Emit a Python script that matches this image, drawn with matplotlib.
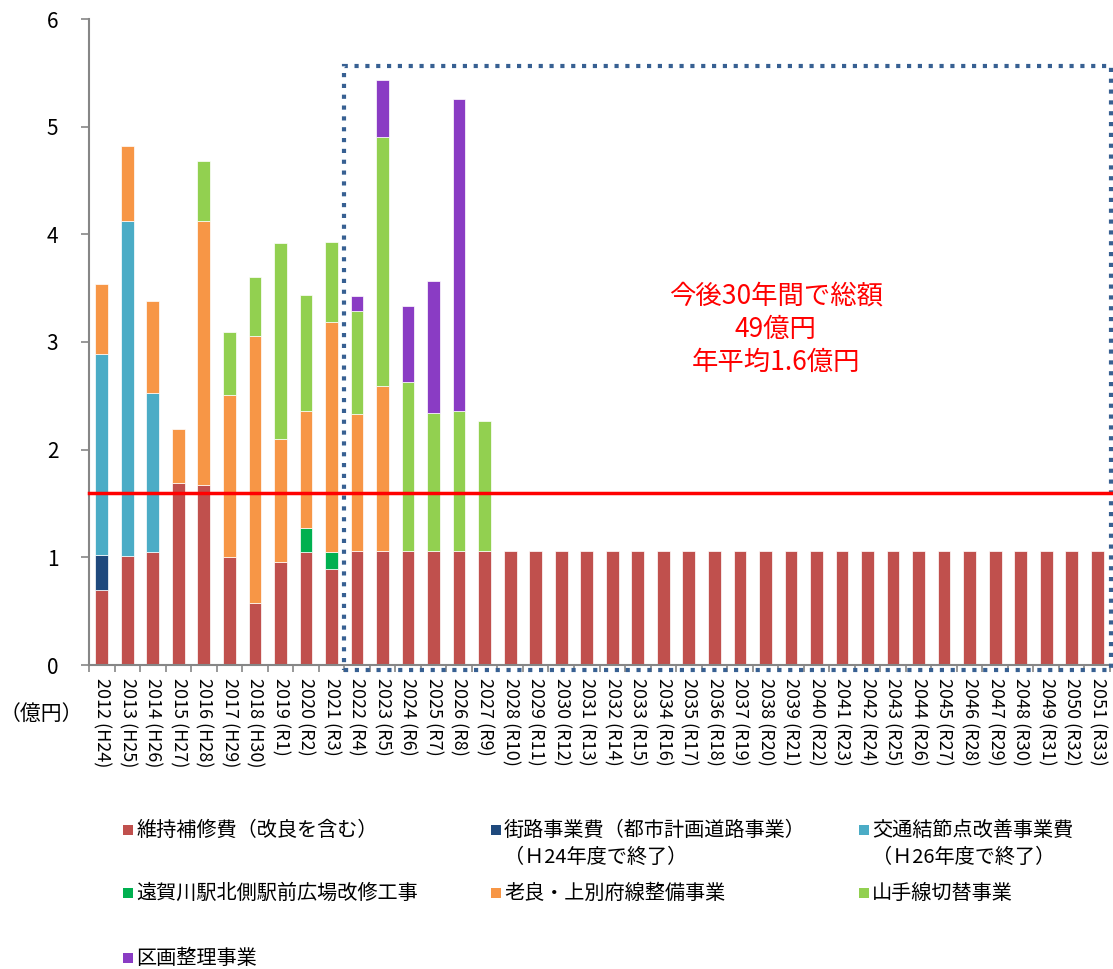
import numpy as np
import matplotlib
matplotlib.use('Agg')
import matplotlib.pyplot as plt
from matplotlib.patches import Rectangle

plt.rcParams['font.family'] = ['Noto Sans CJK JP', 'DejaVu Sans']

# figure size in pixels at dpi 100
plot_dpi = 100
fig_w_px = 1113
fig_h_px = 969
plot_output = 'out.png'

# category labels (fiscal year / era year)
year_labels = [
    '2012 (H24)', '2013 (H25)', '2014 (H26)', '2015 (H27)', '2016 (H28)',
    '2017 (H29)', '2018 (H30)', '2019 (R1)', '2020 (R2)', '2021 (R3)',
    '2022 (R4)', '2023 (R5)', '2024 (R6)', '2025 (R7)', '2026 (R8)',
    '2027 (R9)', '2028 (R10)', '2029 (R11)', '2030 (R12)', '2031 (R13)',
    '2032 (R14)', '2033 (R15)', '2034 (R16)', '2035 (R17)', '2036 (R18)',
    '2037 (R19)', '2038 (R20)', '2039 (R21)', '2040 (R22)', '2041 (R23)',
    '2042 (R24)', '2043 (R25)', '2044 (R26)', '2045 (R27)', '2046 (R28)',
    '2047 (R29)', '2048 (R30)', '2049 (R31)', '2050 (R32)', '2051 (R33)',
]

# series values (億円), bottom to top in the stack
maintenance = [0.70, 1.01, 1.05, 1.69, 1.67, 1.00, 0.58, 0.96, 1.05, 0.89,
               1.06, 1.06, 1.06, 1.06, 1.06, 1.06, 1.06, 1.06, 1.06, 1.06,
               1.06, 1.06, 1.06, 1.06, 1.06, 1.06, 1.06, 1.06, 1.06, 1.06,
               1.06, 1.06, 1.06, 1.06, 1.06, 1.06, 1.06, 1.06, 1.06, 1.06]
street = [0.32, 0, 0, 0, 0, 0, 0, 0, 0, 0,
          0, 0, 0, 0, 0, 0, 0, 0, 0, 0,
          0, 0, 0, 0, 0, 0, 0, 0, 0, 0,
          0, 0, 0, 0, 0, 0, 0, 0, 0, 0]
junction = [1.87, 3.11, 1.48, 0, 0, 0, 0, 0, 0, 0,
            0, 0, 0, 0, 0, 0, 0, 0, 0, 0,
            0, 0, 0, 0, 0, 0, 0, 0, 0, 0,
            0, 0, 0, 0, 0, 0, 0, 0, 0, 0]
station_plaza = [0, 0, 0, 0, 0, 0, 0, 0, 0.22, 0.16,
                 0, 0, 0, 0, 0, 0, 0, 0, 0, 0,
                 0, 0, 0, 0, 0, 0, 0, 0, 0, 0,
                 0, 0, 0, 0, 0, 0, 0, 0, 0, 0]
oyoshi = [0.65, 0.70, 0.85, 0.50, 2.45, 1.51, 2.48, 1.14, 1.09, 2.14,
          1.27, 1.53, 0, 0, 0, 0, 0, 0, 0, 0,
          0, 0, 0, 0, 0, 0, 0, 0, 0, 0,
          0, 0, 0, 0, 0, 0, 0, 0, 0, 0]
yamate = [0, 0, 0, 0, 0.56, 0.58, 0.54, 1.82, 1.08, 0.74,
          0.96, 2.31, 1.57, 1.28, 1.30, 1.21, 0, 0, 0, 0,
          0, 0, 0, 0, 0, 0, 0, 0, 0, 0,
          0, 0, 0, 0, 0, 0, 0, 0, 0, 0]
land_readjust = [0, 0, 0, 0, 0, 0, 0, 0, 0, 0,
                 0.14, 0.53, 0.70, 1.23, 2.90, 0, 0, 0, 0, 0,
                 0, 0, 0, 0, 0, 0, 0, 0, 0, 0,
                 0, 0, 0, 0, 0, 0, 0, 0, 0, 0]

series = [maintenance, street, junction, station_plaza, oyoshi, yamate, land_readjust]
series_names = [
    '維持補修費（改良を含む）',
    '街路事業費（都市計画道路事業）\n（Ｈ24年度で終了）',
    '交通結節点改善事業費\n（Ｈ26年度で終了）',
    '遠賀川駅北側駅前広場改修工事',
    '老良・上別府線整備事業',
    '山手線切替事業',
    '区画整理事業',
]
series_colors = ['#C0504D', '#1F497D', '#4BACC6', '#00B050', '#F79646', '#92D050', '#8A3CC4']

# yearly average line
average = 1.6
note_text = '今後30年間で総額\n49億円\n年平均1.6億円'

fig = plt.figure(figsize=(fig_w_px / plot_dpi, fig_h_px / plot_dpi), dpi=plot_dpi)
ax = fig.add_axes([89 / fig_w_px, 1 - 665 / fig_h_px, (1110 - 89) / fig_w_px, (665 - 19) / fig_h_px])

x = np.arange(len(year_labels))
bottom = np.zeros(len(year_labels))
for vals, color in zip(series, series_colors):
    vals = np.array(vals, dtype=float)
    h = np.where(vals > 0, vals, np.nan)
    ax.bar(x, h, width=0.5, bottom=bottom, color=color,
           edgecolor='#FFFFFF', linewidth=0.5, zorder=2)
    bottom = bottom + vals

# average line
ax.axhline(average, color='#FF0000', linewidth=2.5, zorder=5, clip_on=False,
           xmin=0, xmax=1.003)

# dotted frame around the forecast period
frame = Rectangle((9.5, -0.045), 30.05, 5.605, fill=False, edgecolor='#376092',
                  linewidth=3.0, linestyle=(0, (1.0, 1.6)), zorder=4, clip_on=False)
ax.add_patch(frame)

ax.text(26.4, 3.12, note_text, color='#FF0000', fontsize=19, ha='center', va='center',
        linespacing=1.3, zorder=6)

ax.set_xlim(-0.5, 39.5)
ax.set_ylim(0, 6)
ax.set_yticks([0, 1, 2, 3, 4, 5, 6])
ax.set_xticks(x)
ax.set_xticklabels(year_labels, rotation=270, fontsize=13, va='top', ha='center')
ax.set_xticks(np.arange(-0.5, 40, 1), minor=True)
ax.tick_params(axis='x', which='major', length=0, pad=9)
ax.tick_params(axis='x', which='minor', length=5, color='#868686', width=1.2)
ax.tick_params(axis='y', length=6, color='#868686', width=1.2, labelsize=15, pad=16)

for side in ['top', 'right']:
    ax.spines[side].set_visible(False)
for side in ['left', 'bottom']:
    ax.spines[side].set_color('#868686')
    ax.spines[side].set_linewidth(1.5)

# unit label
fig.text(41 / fig_w_px, 1 - 714 / fig_h_px, '（億円）', fontsize=15, ha='center', va='center')

# legend, drawn by hand (3 columns, squares aligned with the first line)
col_px = [123, 491, 859]
row_px = [830, 893, 958]
line_px = 27
sq = 10
for i, (name, color) in enumerate(zip(series_names, series_colors)):
    cx = col_px[i % 3]
    ry = row_px[i // 3]
    fig.patches.append(Rectangle((cx / fig_w_px, 1 - (ry + sq / 2) / fig_h_px),
                                 sq / fig_w_px, sq / fig_h_px, facecolor=color,
                                 edgecolor='none', transform=fig.transFigure, figure=fig))
    for j, line in enumerate(name.split('\n')):
        fig.text((cx + 13) / fig_w_px, 1 - (ry + j * line_px) / fig_h_px, line,
                 fontsize=14.5, ha='left', va='center')

fig.savefig(plot_output, dpi=plot_dpi)
